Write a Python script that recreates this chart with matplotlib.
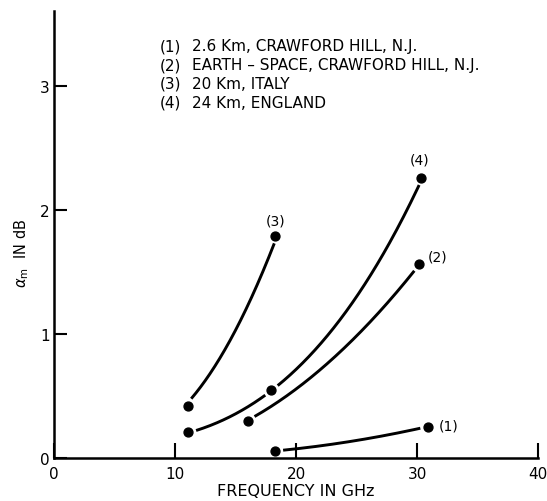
import numpy as np
import matplotlib.pyplot as plt

plt.rcParams['font.family'] = ['DejaVu Sans']

# measured points (GHz, dB)
f1 = [18.3, 30.9]
a1 = [0.06, 0.25]
f2 = [16.0, 30.2]
a2 = [0.30, 1.56]
f3 = [11.1, 18.3]
a3 = [0.42, 1.79]
f4 = [11.1, 17.9, 30.3]
a4 = [0.21, 0.55, 2.26]

# points traced along the hand drawn curves of the original
t1x = [18.3, 22.5, 26.7, 30.9]
t1y = [0.06, 0.094, 0.18, 0.25]
t2x = [16.0, 18.1, 20.9, 23.4, 30.2]
t2y = [0.30, 0.435, 0.61, 0.84, 1.56]
t3x = [11.1, 11.9, 13.9, 15.5, 16.9, 18.0, 18.3]
t3y = [0.42, 0.58, 0.85, 1.12, 1.39, 1.66, 1.79]
t4x = [11.1, 13.17, 15.23, 17.9, 20.9, 22.95, 24.5, 26.5, 28.2, 29.6, 30.3]
t4y = [0.21, 0.26, 0.37, 0.54, 0.785, 1.04, 1.26, 1.52, 1.79, 2.06, 2.26]

legend_lines = ["(1)", "(2)", "(3)", "(4)"]
legend_text = ["2.6 Km, CRAWFORD HILL, N.J.",
               "EARTH \u2013 SPACE, CRAWFORD HILL, N.J.",
               "20 Km, ITALY",
               "24 Km, ENGLAND"]

fig = plt.figure(figsize=(5.47, 5.02), dpi=100)
ax = fig.add_axes([0.0987, 0.0857, 0.885, 0.890])
ax.set_xlim(0, 40)
ax.set_ylim(0, 3.6)

lw = 2.1
ms = 6.4
marks = np.column_stack([f1 + f2 + f3 + f4, a1 + a2 + a3 + a4])
marks_px = ax.transData.transform(marks)

# smooth the traced curves, leave a small gap round each dot like the drawing
for tx, ty, deg in [(t1x, t1y, 2), (t2x, t2y, 2), (t3x, t3y, 2), (t4x, t4y, 3)]:
    p = np.polyfit(tx, ty, deg)
    xs = np.linspace(tx[0], tx[-1], 300)
    ys = np.polyval(p, xs)
    pts = ax.transData.transform(np.column_stack([xs, ys]))
    d = np.min(np.hypot(pts[:, None, 0] - marks_px[None, :, 0],
                        pts[:, None, 1] - marks_px[None, :, 1]), axis=1)
    ys = np.where(d < 7.5, np.nan, ys)
    ax.plot(xs, ys, color='black', lw=lw, solid_capstyle='butt')

for fx, ay in [(f1, a1), (f2, a2), (f3, a3), (f4, a4)]:
    ax.plot(fx, ay, 'o', color='black', ms=ms)

# curve numbers
ax.annotate("(1)", (f1[-1], a1[-1]), xytext=(8, 1), textcoords='offset points',
            ha='left', va='center', fontsize=10)
ax.annotate("(2)", (f2[-1], a2[-1]), xytext=(6, 6), textcoords='offset points',
            ha='left', va='center', fontsize=10)
ax.annotate("(3)", (f3[-1], a3[-1]), xytext=(0, 6), textcoords='offset points',
            ha='center', va='bottom', fontsize=10)
ax.annotate("(4)", (f4[-1], a4[-1]), xytext=(-1, 8), textcoords='offset points',
            ha='center', va='bottom', fontsize=10)

# key in the upper part
for i in range(4):
    y = 47 + i * 18.7
    fig.text(160 / 547, 1 - y / 502, legend_lines[i], ha='left', va='center', fontsize=11)
    fig.text(192 / 547, 1 - y / 502, legend_text[i], ha='left', va='center', fontsize=11)

ax.set_xticks([0, 10, 20, 30, 40])
ax.set_yticks([0, 1, 2, 3])
ax.spines['top'].set_visible(False)
ax.spines['right'].set_visible(False)
for s in ['left', 'bottom']:
    ax.spines[s].set_linewidth(1.8)
ax.tick_params(axis='x', direction='in', length=11, width=1.5, labelsize=11, pad=6)
ax.tick_params(axis='y', direction='in', length=9.5, width=1.5, labelsize=11, pad=3)
ax.set_xlabel("FREQUENCY IN GHz", fontsize=11.5, labelpad=1)
ax.set_ylabel(r"$\alpha_{\rm m}$  IN dB", fontsize=10.5)
ax.yaxis.set_label_coords(-0.048, 0.46)

plt.savefig("out.png", dpi=100)
